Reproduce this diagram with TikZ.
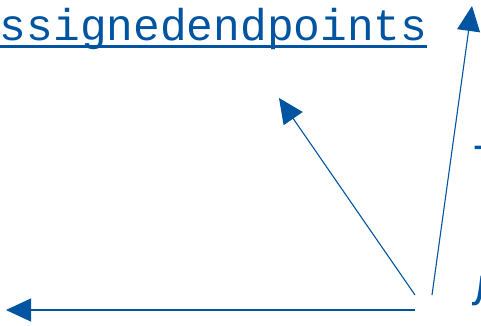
\documentclass[tikz,border=0pt]{standalone}
\usepackage{fontspec}
\setmonofont{Liberation Mono}
\usetikzlibrary{arrows.meta}
\definecolor{linkblue}{RGB}{0,84,160}

\begin{document}
\begin{tikzpicture}[
      x=1pt, y=1pt,
      every node/.style={inner sep=0, text=linkblue, font=\ttfamily\fontsize{44.5}{50}\selectfont},
      pointer/.style={draw=linkblue, line width=1.1pt, -{Triangle[length=25pt, width=23pt]}}
    ]
    \useasboundingbox (0,0) rectangle (481,325);
    \clip (0,0) rectangle (481,325);
    % labels, partly cut by the frame
    \node[anchor=base west] (ep) at (-26.9,285) {assignedendpoints};
    \draw[linkblue, line width=2.5pt] ([yshift=-6.5pt]ep.base west) -- ([yshift=-6.5pt]ep.base east);
    \node[anchor=base west] (te) at (473,149.5) {Т};
    \node[anchor=base west] (el) at (472,19.5) {Л};
    % pointers
    \coordinate (src1) at (415,30);
    \coordinate (src2) at (432,30);
    \coordinate (src3) at (415,15);
    \coordinate (dst1) at (279,227);
    \coordinate (dst2) at (472,319);
    \coordinate (dst3) at (6,15);
    \draw[pointer] (src1) -- (dst1);
    \draw[pointer] (src2) -- (dst2);
    \draw[pointer] (src3) -- (dst3);
\end{tikzpicture}
\end{document}
